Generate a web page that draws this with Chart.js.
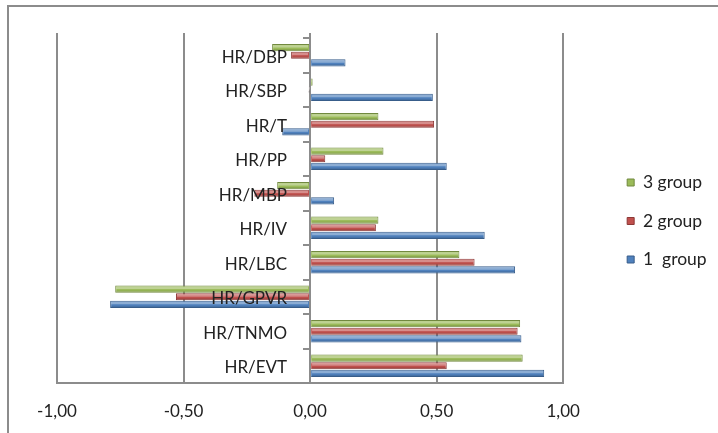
<!DOCTYPE html>
<html>
<head>
<meta charset="utf-8">
<script src="https://cdn.jsdelivr.net/npm/chart.js@4"></script>
<style>
  html, body { margin: 0; padding: 0; background: #fff; }
  #wrap { position: relative; width: 718px; height: 433px; overflow: hidden; }
  #frame { position: absolute; left: 7px; top: 5px; width: 800px; height: 500px;
           border-left: 2px solid #8c8c8c; border-top: 2px solid #8c8c8c; }
  canvas { position: absolute; left: 0; top: 0; }
</style>
</head>
<body>
<div id="wrap">
  <div id="frame"></div>
  <canvas id="chart" width="718" height="433"></canvas>
</div>
<script>
// categories top to bottom, as in the picture
const categories = ['HR/DBP', 'HR/SBP', 'HR/T', 'HR/PP', 'HR/MBP', 'HR/IV', 'HR/LBC', 'HR/GPVR', 'HR/TNMO', 'HR/EVT'];

const group3 = [-0.15, 0.01, 0.27, 0.29, -0.13, 0.27, 0.59, -0.77, 0.83, 0.84];
const group2 = [-0.075, -0.005, 0.49, 0.06, -0.22, 0.26, 0.65, -0.53, 0.82, 0.54];
const group1 = [0.14, 0.485, -0.11, 0.54, 0.095, 0.69, 0.81, -0.79, 0.835, 0.925];

const xTicks = [-1, -0.5, 0, 0.5, 1];

// back wall lines stick out a bit above the category axis (3d look)
const wallTop = {
    id: 'wallTop',
    beforeDatasetsDraw(chart) {
        const c = chart.ctx;
        const xs = chart.scales.x;
        const top = chart.chartArea.top;
        c.save();
        c.strokeStyle = '#8c8c8c';
        c.lineWidth = 2;
        xTicks.forEach(v => {
            const x = Math.round(xs.getPixelForValue(v));
            c.beginPath();
            c.moveTo(x, top - 5);
            c.lineTo(x, top);
            c.stroke();
        });
        c.restore();
    }
};

// light band on the top of each bar, for the rounded excel look,
// then the category names on top of the bars, left of the zero line
const barLabels = {
    id: 'barLabels',
    afterDatasetsDraw(chart) {
        const c = chart.ctx;
        c.save();
        chart.data.datasets.forEach((ds, i) => {
            chart.getDatasetMeta(i).data.forEach(bar => {
                const left = Math.min(bar.x, bar.base);
                const w = Math.abs(bar.x - bar.base);
                const top = bar.y - bar.height / 2;
                c.fillStyle = 'rgba(255,255,255,0.35)';
                c.fillRect(left + 1, top + 1, w - 2, bar.height * 0.35);
                c.fillStyle = 'rgba(0,0,0,0.12)';
                c.fillRect(left + 1, top + bar.height * 0.7, w - 2, bar.height * 0.3 - 1);
            });
        });
        const xs = chart.scales.x;
        const ys = chart.scales.y;
        c.font = '17px Lato';
        c.fillStyle = '#222';
        c.textAlign = 'right';
        c.textBaseline = 'middle';
        categories.forEach((name, i) => {
            c.fillText(name, xs.getPixelForValue(0) - 23, ys.getPixelForValue(i) + 2);
        });
        c.restore();
    }
};

const ctx = document.getElementById('chart').getContext('2d');

new Chart(ctx, {
    type: 'bar',
    data: {
        labels: categories,
        datasets: [
            { label: '3 group', data: group3, backgroundColor: '#9BBB59', borderColor: '#71893F', borderWidth: 1 },
            { label: '2 group', data: group2, backgroundColor: '#C0504D', borderColor: '#8C3836', borderWidth: 1 },
            { label: '1  group', data: group1, backgroundColor: '#4F81BD', borderColor: '#385D8A', borderWidth: 1 }
        ]
    },
    options: {
        indexAxis: 'y',
        responsive: false,
        animation: false,
        layout: { padding: { top: 9, left: 57, right: 2, bottom: 0 } },
        datasets: {
            bar: { barPercentage: 0.95, categoryPercentage: 0.66 }
        },
        scales: {
            x: {
                min: -1,
                max: 1,
                afterBuildTicks: (scale) => { scale.ticks = xTicks.map(v => ({ value: v })); },
                afterFit: (scale) => { scale.height = 50; },
                grid: { color: '#8c8c8c', lineWidth: 2, drawTicks: false },
                border: { display: true, color: '#8c8c8c', width: 2 },
                ticks: {
                    padding: 18,
                    color: '#222',
                    font: { family: 'Lato', size: 17 },
                    callback: (v) => v.toFixed(2).replace('.', ',')
                }
            },
            y: {
                position: { x: 0 },
                grid: { drawOnChartArea: false, offset: true, tickLength: 6, color: '#8c8c8c', lineWidth: 2 },
                border: { display: true, color: '#8c8c8c', width: 2 },
                ticks: { display: false }
            },
            gapTop: {
                type: 'linear',
                position: 'top',
                display: true,
                grid: { display: false },
                border: { display: false },
                ticks: { display: false },
                afterFit: (scale) => { scale.height = 29; }
            },
            gap: {
                type: 'linear',
                position: 'right',
                display: true,
                grid: { display: false },
                border: { display: false },
                ticks: { display: false },
                afterFit: (scale) => { scale.width = 43; }
            }
        },
        plugins: {
            legend: {
                position: 'right',
                labels: {
                    boxWidth: 7,
                    boxHeight: 7,
                    padding: 21,
                    color: '#222',
                    font: { family: 'Lato', size: 17.5 }
                }
            },
            tooltip: { enabled: false }
        }
    },
    plugins: [wallTop, barLabels]
});
</script>
</body>
</html>
